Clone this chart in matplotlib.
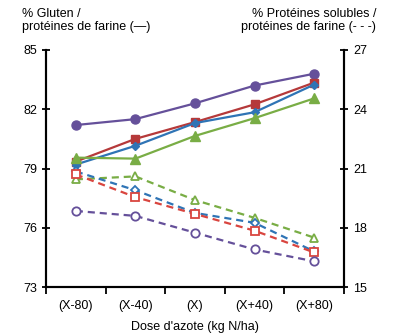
import matplotlib
matplotlib.use("Agg")
import matplotlib.pyplot as plt
from matplotlib import font_manager

names = {f.name for f in font_manager.fontManager.ttflist}
fam = "Liberation Sans Narrow" if "Liberation Sans Narrow" in names else "Liberation Sans"
plt.rcParams['font.family'] = [fam, 'DejaVu Sans']

categories = ["(X-80)", "(X-40)", "(X)", "(X+40)", "(X+80)"]

gluten_purple = [81.2, 81.5, 82.3, 83.2, 83.8]
gluten_red = [79.35, 80.5, 81.35, 82.25, 83.35]
gluten_blue = [79.2, 80.15, 81.3, 81.85, 83.25]
gluten_green = [79.55, 79.5, 80.65, 81.55, 82.55]

sol_green = [20.45, 20.6, 19.4, 18.5, 17.5]
sol_blue = [20.85, 19.9, 18.75, 18.25, 16.8]
sol_red = [20.7, 19.55, 18.7, 17.85, 16.75]
sol_purple = [18.85, 18.6, 17.75, 16.9, 16.3]

left_ticks = [73, 76, 79, 82, 85]
right_ticks = [15, 18, 21, 24, 27]

c_purple = "#65509A"
c_red = "#B5393A"
c_blue = "#2F74B5"
c_green = "#79AD45"
c_red_d = "#D9453F"

fig = plt.figure(figsize=(3.93, 3.36), dpi=100)
ax = fig.add_axes([46/393, 1-287/336, (344-46)/393, (287-50)/336])
ax2 = ax.twinx()

x = list(range(len(categories)))
ms = 6
lw = 1.6
ax.plot(x, gluten_purple, color=c_purple, marker='o', ms=ms+0.5, lw=lw, zorder=5)
ax.plot(x, gluten_red, color=c_red, marker='s', ms=ms, lw=lw, zorder=5)
ax.plot(x, gluten_blue, color=c_blue, marker='D', ms=ms-2, lw=lw, zorder=5)
ax.plot(x, gluten_green, color=c_green, marker='^', ms=ms+0.5, lw=lw, zorder=5)

dash = (0, (3.2, 2.2))
ax2.plot(x, sol_green, color=c_green, marker='^', ms=ms, mfc='white', mew=1.3, lw=lw, ls=dash)
ax2.plot(x, sol_blue, color=c_blue, marker='D', ms=ms-1.5, mfc='white', mew=1.3, lw=lw, ls=dash)
ax2.plot(x, sol_red, color=c_red_d, marker='s', ms=ms-0.5, mfc='white', mew=1.3, lw=lw, ls=dash)
ax2.plot(x, sol_purple, color=c_purple, marker='o', ms=ms, mfc='white', mew=1.3, lw=lw, ls=dash)

ax.set_xlim(-0.5, 4.5)
ax.set_ylim(73, 85)
ax2.set_ylim(15, 27)
ax.set_yticks(left_ticks)
ax2.set_yticks(right_ticks)
ax.set_xticks(x)
ax.set_xticklabels(categories)
ax.set_xticks([i - 0.5 for i in range(len(categories) + 1)], minor=True)
ax.tick_params(axis='x', which='major', length=0, labelsize=9, pad=9)
ax.tick_params(axis='x', which='minor', length=5, width=1.3, direction='out')
ax.tick_params(axis='y', length=6, width=1.3, direction='inout', labelsize=9)
ax2.tick_params(axis='y', length=6, width=1.3, direction='inout', labelsize=9)

for a in (ax, ax2):
    a.spines['top'].set_visible(False)
    for s in ('left', 'right', 'bottom'):
        a.spines[s].set_linewidth(1.5)

ax.set_xlabel("Dose d'azote (kg N/ha)", fontsize=9, labelpad=7)

fig.text(22/393, 1-8/336, "% Gluten /\nprotéines de farine (—)", ha='left', va='top',
         fontsize=9, linespacing=1.15)
fig.text(376/393, 1-8/336, "% Protéines solubles /\nprotéines de farine (- - -)", ha='right', va='top',
         fontsize=9, linespacing=1.15, multialignment='right')

fig.savefig("out.png", dpi=100)
